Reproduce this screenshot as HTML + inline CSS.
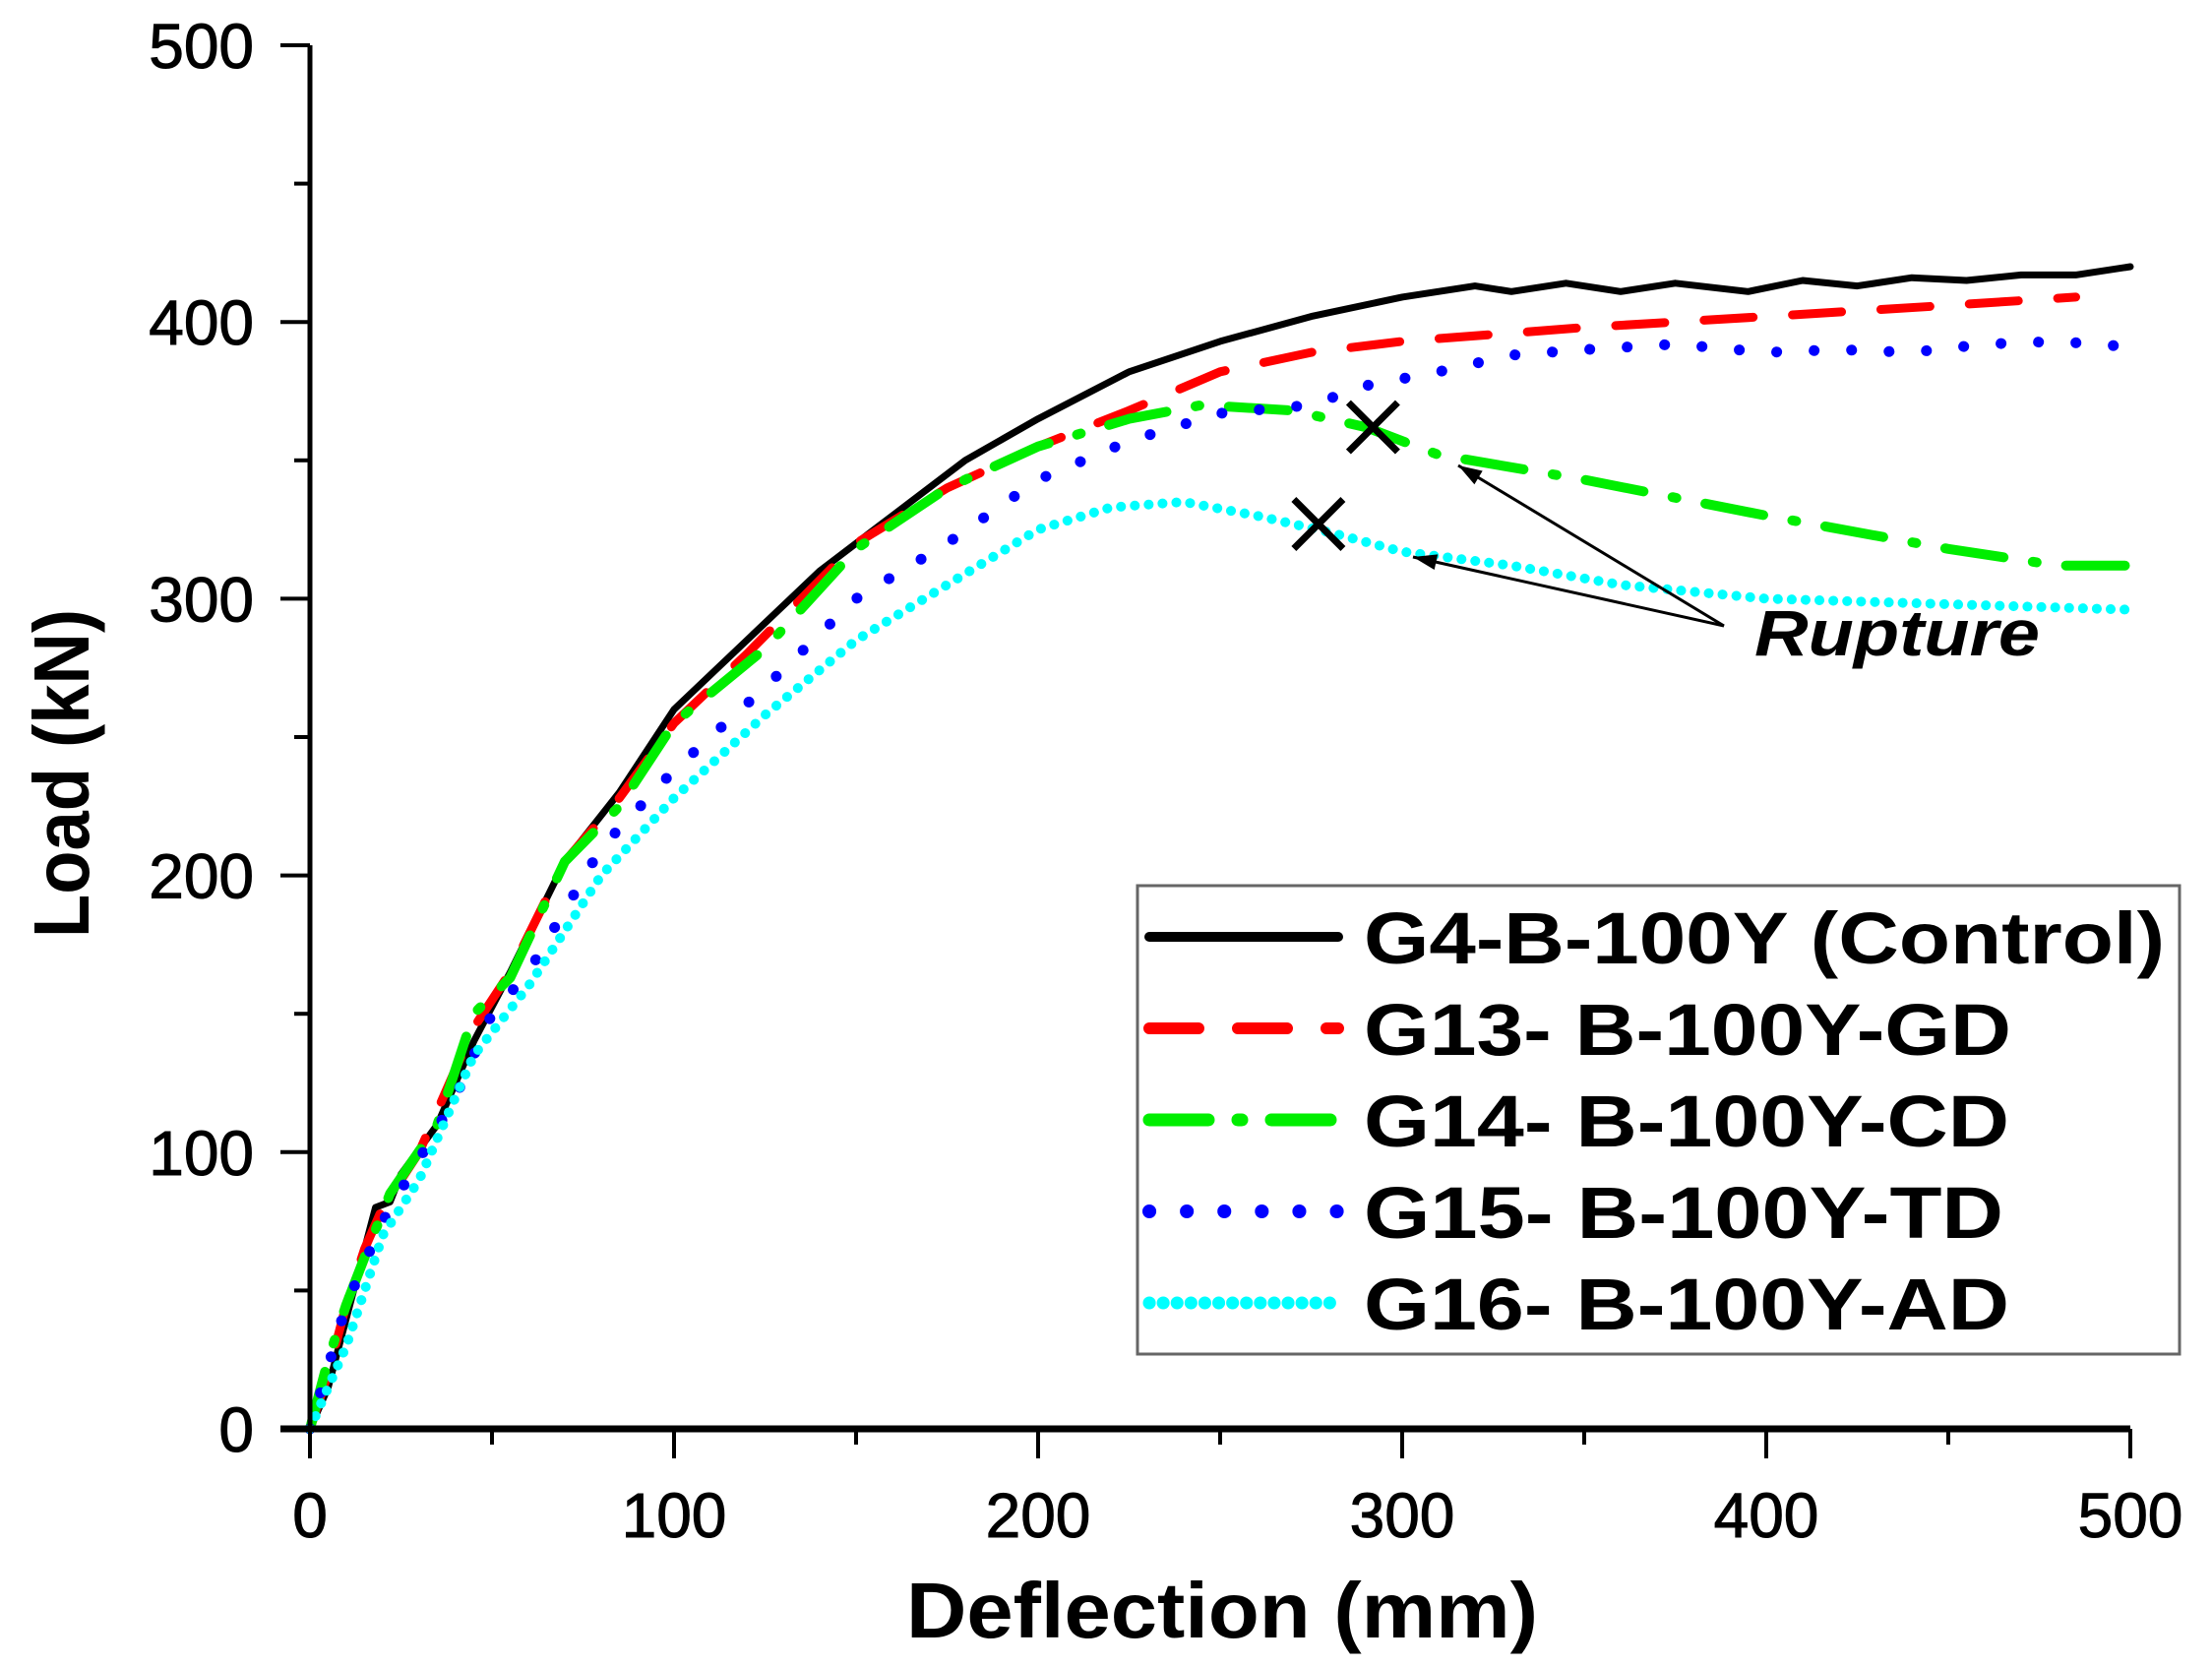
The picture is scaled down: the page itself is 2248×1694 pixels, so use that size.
<!DOCTYPE html>
<html><head><meta charset="utf-8"><style>
html,body{margin:0;padding:0;background:#fff}
svg{display:block}
text{font-family:"Liberation Sans",sans-serif}
</style></head><body>
<svg id="chart" width="2248" height="1694" viewBox="0 0 2248 1694" xmlns="http://www.w3.org/2000/svg">
<defs><marker id="ah" markerWidth="10" markerHeight="8" refX="9" refY="4" orient="auto" markerUnits="userSpaceOnUse"><path d="M10,4L0,0L0,8z" fill="#000" transform="scale(2.2) translate(-5.5,-2.2)"/></marker></defs>
<g id="series"></g>
<g id="axes"></g>
<g id="legend"></g>
</svg>
<script>
const xTicks=[0,100,200,300,400,500];
const yTicks=[0,100,200,300,400,500];
const ctrlX=[0,5,10,15,18,22,25,35,45,55,70,85,100,120,140,160,180,200,225,250,275,300,320,330,345,360,375,395,410,425,440,455,470,485,500];
const ctrlY=[0,15,40,65,80,82,92,110,140,165,205,230,260,285,310,330,350,365,382,393,402,409,413,411,414,411,414,411,415,413,416,415,417,417,420];
const gdX=[0,5,10,15,20,30,45,55,70,85,100,120,150,175,200,225,250,275,300,350,400,450,485];
const gdY=[0,20,45,65,80,100,145,165,205,228,255,280,320,340,355,368,382,389,393,398,402,406,409];
const cdX=[0,5,10,15,22,35,45,55,70,85,100,125,150,175,200,225,245,270,290,310,350,400,450,480,500];
const cdY=[0,25,45,62,85,110,150,163,205,225,255,282,318,340,355,365,370,368,362,352,343,330,318,312,312];
const tdX=[0,10,20,40,50,60,80,100,125,150,175,200,225,250,275,290,310,330,350,375,400,420,440,460,480,500];
const tdY=[0,45,75,120,150,165,210,238,268,300,320,343,357,367,370,377,382,388,390,392,389,390,389,392,393,391];
const adX=[0,10,20,30,45,60,80,100,125,150,175,200,220,240,260,280,300,330,360,400,450,500];
const adY=[0,30,70,90,135,160,200,228,258,285,305,325,333,335,330,324,317,312,305,300,298,296];
const ruptureX=[292,277];
const ruptureY=[362,327];
const X0=315,X1=2165,Y0=1452,Y1=46;
const sx=v=>X0+(X1-X0)*v/500, sy=v=>Y0-(Y0-Y1)*v/500;
const NS="http://www.w3.org/2000/svg";
function el(tag,attrs,parent){const e=document.createElementNS(NS,tag);for(const k in attrs)e.setAttribute(k,attrs[k]);parent.appendChild(e);return e;}
const S=document.getElementById('series'),A=document.getElementById('axes'),L=document.getElementById('legend');
const specs=[
 {x:ctrlX,y:ctrlY,c:"#000",d:"",w:7,name:"control-line",lab:"G4-B-100Y (Control)"},
 {x:gdX,y:gdY,c:"#ff0000",d:"50 40",w:9,name:"gd-line",lab:"G13- B-100Y-GD"},
 {x:cdX,y:cdY,c:"#00ee00",d:"60 30 4 30",w:10,name:"cd-line",lab:"G14- B-100Y-CD"},
 {x:tdX,y:tdY,c:"#0000ff",d:"0.1 38",w:11,name:"td-line",lab:"G15- B-100Y-TD"},
 {x:adX,y:adY,c:"#00ffff",d:"0.1 14",w:10,name:"ad-line",lab:"G16- B-100Y-AD"}];
specs.forEach(s=>{
 const pts=s.x.map((v,i)=>sx(v).toFixed(1)+","+sy(s.y[i]).toFixed(1)).join(" ");
 const p=el('polyline',{points:pts,fill:"none",stroke:s.c,"stroke-width":s.w,"stroke-dasharray":s.d,"stroke-linecap":"round","stroke-linejoin":"round"},S);
 
 
});
ruptureX.forEach((v,i)=>{
 const cx=sx(v),cy=sy(ruptureY[i]),r=25;
 const g=el('g',{},S);
 
 
 el('path',{d:`M${cx-r},${cy-r}L${cx+r},${cy+r}M${cx-r},${cy+r}L${cx+r},${cy-r}`,stroke:"#000","stroke-width":7},g);
});
const ag=el('g',{},S);


function arrow(x1,y1,x2,y2){
 el('line',{x1:x1,y1:y1,x2:x2,y2:y2,stroke:"#000","stroke-width":3},ag);
 const a=Math.atan2(y2-y1,x2-x1),L=24,W=8;
 const bx=x2-L*Math.cos(a),by=y2-L*Math.sin(a);
 el('path',{d:`M${x2},${y2}L${bx-W*Math.sin(a)},${by+W*Math.cos(a)}L${bx+W*Math.sin(a)},${by-W*Math.cos(a)}z`,fill:"#000"},ag);
}
arrow(1752,636,1482,473);
arrow(1752,636,1436,566);
const rt=el('text',{x:1783,y:666,"font-size":66,"font-weight":"bold","font-style":"italic",fill:"#000",textLength:290,lengthAdjust:"spacingAndGlyphs"},S);
rt.textContent="Rupture";


const ya=el('line',{x1:X0,y1:Y1,x2:X0,y2:Y0+2,stroke:"#000","stroke-width":5},A);


const xa=el('line',{x1:X0-30,y1:Y0,x2:X1,y2:Y0,stroke:"#000","stroke-width":7},A);


for(let v=0;v<=500;v+=50){
 const maj=v%100===0;
 el('line',{x1:sx(v),y1:Y0,x2:sx(v),y2:Y0+(maj?30:16),stroke:"#000","stroke-width":4},A);
 el('line',{x1:X0,y1:sy(v),x2:X0-(maj?30:16),y2:sy(v),stroke:"#000","stroke-width":4},A);
}
xTicks.forEach(v=>{const t=el('text',{x:sx(v),y:Y0+110,"font-size":64,"text-anchor":"middle",fill:"#000",stroke:"#000","stroke-width":1},A);t.textContent=v;
 
 });
yTicks.forEach(v=>{const t=el('text',{x:258,y:sy(v)+23,"font-size":64,"text-anchor":"end",fill:"#000",stroke:"#000","stroke-width":1},A);t.textContent=v;
 
 });
const xt=el('text',{x:1242,y:1664,"font-size":80,"font-weight":"bold","text-anchor":"middle",fill:"#000",textLength:642,lengthAdjust:"spacingAndGlyphs"},A);
xt.textContent="Deflection (mm)";


const yt=el('text',{x:0,y:0,"font-size":80,"font-weight":"bold","text-anchor":"middle",fill:"#000",textLength:334,lengthAdjust:"spacingAndGlyphs",transform:"translate(90,786) rotate(-90)"},A);
yt.textContent="Load (kN)";


const lb=el('rect',{x:1156,y:900,width:1059,height:476,fill:"#fff",stroke:"#666","stroke-width":3},L);


const lens=[814,658,656,650,656];
specs.forEach((s,i)=>{
 const y=952+i*93;
 const g=el('g',{},L);
 
 
 el('line',{x1:1168,y1:y,x2:1360,y2:y,stroke:s.c,"stroke-width":s.w+3,"stroke-dasharray":s.d,"stroke-linecap":"round"},g);
 const t=el('text',{x:1386,y:y+27,"font-size":74,"font-weight":"bold",fill:"#000",textLength:lens[i],lengthAdjust:"spacingAndGlyphs"},g);
 t.textContent=s.lab;
});
</script>
</body></html>
